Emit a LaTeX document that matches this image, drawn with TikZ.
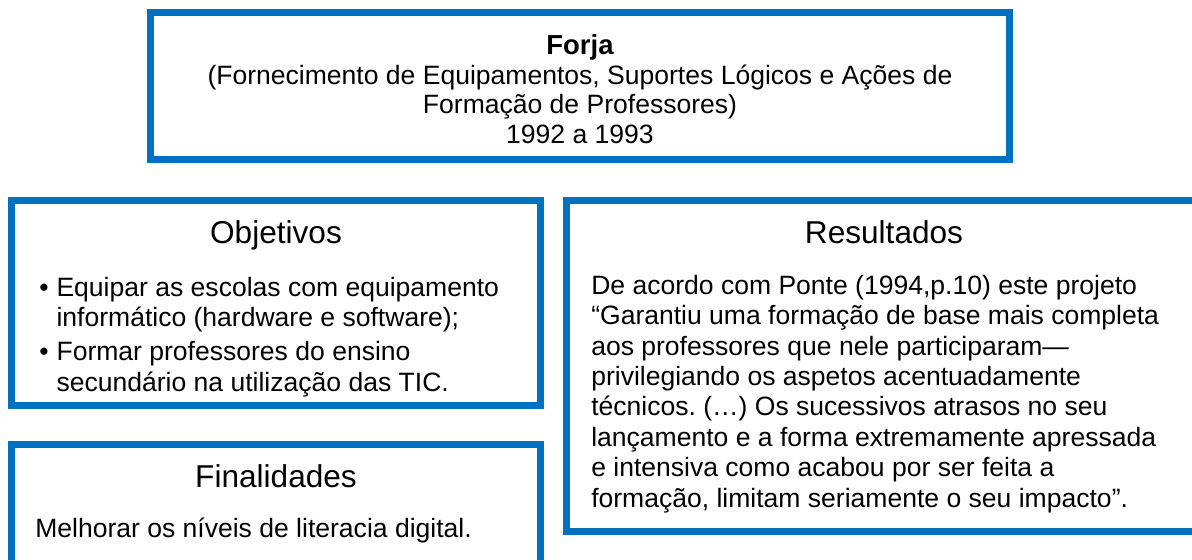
\documentclass[tikz,border=0pt]{standalone}
\usepackage{fontspec}
\setmainfont{Liberation Sans}
\usetikzlibrary{positioning}
\definecolor{boxblue}{HTML}{0070C0}
\frenchspacing
\newcommand{\bodyfont}{\fontsize{19.9}{22.8}\selectfont}
\newcommand{\headfont}{\fontsize{23.7}{27}\selectfont}

\begin{document}
\begin{tikzpicture}[x=0.75pt, y=-0.75pt,
  frame/.style={draw=boxblue, line width=5.25pt, inner sep=0pt},
  head/.style={anchor=base, font=\headfont},
  body/.style={anchor=base west, align=left, font=\bodyfont, inner sep=0pt}]
  \useasboundingbox (0,0) rectangle (1192,560);
  \clip (0,0) rectangle (1192,560);

  % Top: project name (base = last line)
  \node[frame, minimum width=644.6pt, minimum height=110.6pt] (topbox) at (579.75, 86.25) {};
  \node[anchor=base, font=\fontsize{20.6}{22}\selectfont\bfseries] (forja) at (580, 55) {Forja};
  \node[anchor=base, align=center, font=\fontsize{19.9}{22}\selectfont, inner sep=0pt] (forjatext) at (580, 143)
    {(Fornecimento de Equipamentos, Suportes Lógicos e Ações de\\
     Formação de Professores)\\
     1992 a 1993};

  % Left: objectives
  \node[frame, minimum width=396.75pt, minimum height=153.75pt] (objbox) at (276, 303) {};
  \node[head] (objtitle) at (276, 243) {Objetivos};
  \node[body] (objtext) at (39, 296)
    {\begin{tabular}[t]{@{}l@{\hspace{6pt}}l@{}}
       • & Equipar as escolas com equipamento\\
         & informático (hardware e software);\\[3pt]
       • & Formar professores do ensino\\
         & secundário na utilização das TIC.
     \end{tabular}};

  % Left: aims
  \node[frame, minimum width=396.75pt, minimum height=116.6pt] (finbox) at (276, 522.25) {};
  \node[head] (fintitle) at (276, 487) {Finalidades};
  \node[body] (fintext) at (35, 537) {Melhorar os níveis de literacia digital.};

  % Right: results
  \node[frame, minimum width=497.6pt, minimum height=248.25pt] (resbox) at (898.25, 366) {};
  \node[head] (restitle) at (884, 243) {Resultados};
  \node[body] (restext) at (591, 507)
    {De acordo com Ponte (1994,p.10) este projeto\\
     “Garantiu uma formação de base mais completa\\
     aos professores que nele participaram—\\
     privilegiando os aspetos acentuadamente\\
     técnicos. (…) Os sucessivos atrasos no seu\\
     lançamento e a forma extremamente apressada\\
     e intensiva como acabou por ser feita a\\
     formação, limitam seriamente o seu impacto”.};
\end{tikzpicture}
\end{document}
